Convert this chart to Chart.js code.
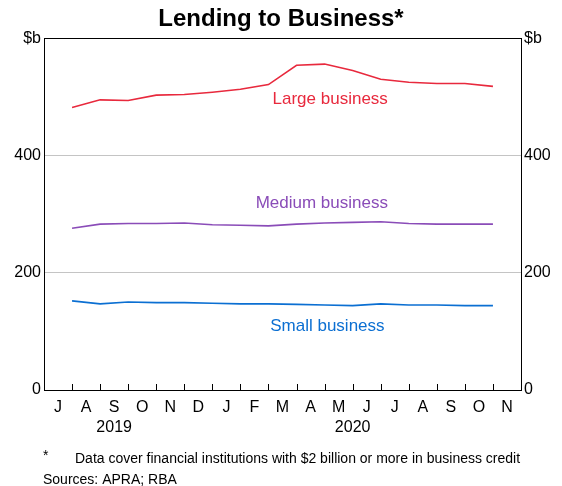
<!DOCTYPE html>
<html>
<head>
<meta charset="utf-8">
<script src="https://cdn.jsdelivr.net/npm/chart.js@4/dist/chart.umd.min.js"></script>
<style>
  html, body { margin: 0; padding: 0; background: #fff; }
  #wrap { width: 562px; height: 486px; }
</style>
</head>
<body>
<div id="wrap"><canvas id="chart"></canvas></div>
<script>
// Month-end positions: 1 = end Jul 2019 ... 16 = end Oct 2020
var positions = [1, 2, 3, 4, 5, 6, 7, 8, 9, 10, 11, 12, 13, 14, 15, 16];
var large  = [482, 495, 494, 503, 504, 508, 513, 521, 554, 556, 545, 530, 525, 523, 523, 518];
var medium = [276, 283, 284, 284, 285, 282, 281, 280, 283, 285, 286, 287, 284, 283, 283, 283];
var small  = [152, 147, 150, 149, 149, 148, 147, 147, 146, 145, 144, 147, 145, 145, 144, 144];

var monthLabels = ["J", "A", "S", "O", "N", "D", "J", "F", "M", "A", "M", "J", "J", "A", "S", "O", "N"];
var yearLabels = ["2019", "2020"];
var yearCentres = [2.5, 11];
var yTicks = [0, 200, 400, 600];

var FONT = "Arial, 'Liberation Sans', sans-serif";
var RED = "#e8293d", PURPLE = "#8a4cb8", BLUE = "#0b6fd2";

function toPoints(vals) {
    return vals.map(function (v, i) { return { x: positions[i], y: v }; });
}

// series labels placed in data units
var seriesLabels = [
    { text: "Large business",  x: 10.2, y: 496, color: RED },
    { text: "Medium business", x: 9.9,  y: 318, color: PURPLE },
    { text: "Small business",  x: 10.1, y: 108, color: BLUE }
];

var extras = {
    id: "extras",
    afterDraw: function (chart) {
        var ctx = chart.ctx, xs = chart.scales.x, ys = chart.scales.y;
        var area = chart.chartArea;
        ctx.save();
        // inward tick marks at month boundaries
        ctx.strokeStyle = "#000";
        ctx.lineWidth = 1;
        for (var i = 1; i < monthLabels.length; i++) {
            var px = Math.round(xs.getPixelForValue(i)) + 0.5;
            ctx.beginPath();
            ctx.moveTo(px, area.bottom);
            ctx.lineTo(px, area.bottom - 6);
            ctx.stroke();
        }
        // series labels
        ctx.font = "17px " + FONT;
        ctx.textAlign = "center";
        ctx.textBaseline = "middle";
        seriesLabels.forEach(function (l) {
            ctx.fillStyle = l.color;
            ctx.fillText(l.text, xs.getPixelForValue(l.x), ys.getPixelForValue(l.y));
        });
        // footnotes
        ctx.fillStyle = "#000";
        ctx.textAlign = "left";
        ctx.font = "14px " + FONT;
        ctx.fillText("*", 43, 456);
        ctx.fillText("Data cover financial institutions with $2 billion or more in business credit", 75, 459);
        ctx.fillText("Sources: APRA; RBA", 43, 480);
        ctx.restore();
    }
};

function yAxis(pos, width) {
    return {
        position: pos,
        min: 0,
        max: 600,
        afterBuildTicks: function (s) { s.ticks = yTicks.map(function (v) { return { value: v }; }); },
        afterFit: function (s) { s.width = width; },
        ticks: {
            color: "#000",
            padding: 3,
            font: { family: FONT, size: 16 },
            callback: function (v) { return v === 600 ? "$b" : v; }
        },
        grid: {
            drawOnChartArea: pos === "left",
            drawTicks: false,
            color: function (c) { return (c.tick.value === 0 || c.tick.value === 600) ? "#000" : "#c4c4c4"; },
            lineWidth: 1
        },
        border: { color: "#000", width: 1 }
    };
}

new Chart(document.getElementById("chart"), {
    type: "line",
    data: {
        datasets: [
            { label: "Large business",  data: toPoints(large),  borderColor: RED },
            { label: "Medium business", data: toPoints(medium), borderColor: PURPLE },
            { label: "Small business",  data: toPoints(small),  borderColor: BLUE }
        ]
    },
    options: {
        responsive: true,
        maintainAspectRatio: false,
        animation: false,
        elements: {
            line: { borderWidth: 1.6, tension: 0, fill: false },
            point: { radius: 0 }
        },
        layout: { padding: { top: 0, right: 0, bottom: 46, left: 0 } },
        plugins: {
            legend: { display: false },
            tooltip: { enabled: false },
            title: {
                display: true,
                text: "Lending to Business*",
                color: "#000",
                font: { family: FONT, size: 24, weight: "bold" },
                padding: { top: 5, bottom: 4.5 }
            }
        },
        scales: {
            x: {
                type: "linear",
                position: "bottom",
                min: 0,
                max: 17,
                afterBuildTicks: function (s) {
                    s.ticks = monthLabels.map(function (m, i) { return { value: i + 0.5 }; });
                },
                afterFit: function (s) { s.height = 28; },
                ticks: {
                    color: "#000",
                    padding: 8,
                    autoSkip: false,
                    maxRotation: 0,
                    font: { family: FONT, size: 16 },
                    callback: function (v) { return monthLabels[Math.floor(v)]; }
                },
                grid: { display: false, drawTicks: false },
                border: { color: "#000", width: 1 }
            },
            xYear: {
                type: "linear",
                position: "bottom",
                min: 0,
                max: 17,
                afterBuildTicks: function (s) {
                    s.ticks = yearCentres.map(function (v) { return { value: v }; });
                },
                afterFit: function (s) { s.height = 22; },
                ticks: {
                    color: "#000",
                    padding: 0,
                    autoSkip: false,
                    maxRotation: 0,
                    font: { family: FONT, size: 16 },
                    callback: function (v) { return yearLabels[yearCentres.indexOf(v)]; }
                },
                grid: { display: false, drawTicks: false },
                border: { display: false }
            },
            y: yAxis("left", 44),
            y2: yAxis("right", 41)
        }
    },
    plugins: [extras]
});
</script>
</body>
</html>
